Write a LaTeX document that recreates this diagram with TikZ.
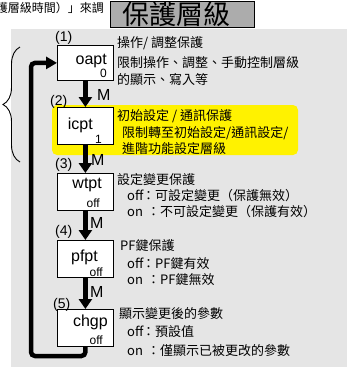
\documentclass[tikz,border=0pt]{standalone}
\usepackage{fontspec}
\setmainfont{Liberation Sans}
\newfontfamily\cjk{Noto Sans CJK TC}
\usetikzlibrary{arrows.meta,decorations.pathreplacing}

\definecolor{panelgray}{RGB}{229,229,229}
\definecolor{titlegray}{RGB}{172,172,172}

\tikzset{
  pbox/.style={draw,fill=white,line width=0.8pt,minimum width=56pt,minimum height=37pt,inner sep=0pt},
  pname/.style={font=\fontsize{16}{16}\selectfont,anchor=base east,inner sep=0pt},
  pval/.style={font=\fontsize{12}{12}\selectfont,anchor=base east,inner sep=0pt},
  pnum/.style={font=\fontsize{14}{14}\selectfont,anchor=base west,inner sep=0pt},
  mlabel/.style={font=\fontsize{16}{16}\selectfont,anchor=base west,inner sep=0pt},
  ptext/.style={font=\cjk\fontsize{13}{13}\selectfont,anchor=base west,inner sep=0pt},
  mstep/.style={line width=4.5pt,-{Triangle[length=10pt,width=13pt]}},
  fbline/.style={line width=4.5pt,rounded corners=4pt,-{Triangle[length=11pt,width=12pt]}},
}

\begin{document}
\begin{tikzpicture}[x=1pt,y=-1pt]
\useasboundingbox (0,0) rectangle (347,376);

% ---------------- BACKGROUND ----------------
\fill[panelgray] (11,29) rectangle (347,367);
\fill[yellow,rounded corners=5pt] (52,105) rectangle (298,155);

% title and cut line above
\node[font=\cjk\fontsize{12}{12}\selectfont,anchor=east,inner sep=0pt] (prevline) at (104,8) {護層級時間）」來調};
\draw[fill=titlegray,line width=1pt] (110,1) rectangle (254,27);
\node[font=\cjk\fontsize{27}{27}\selectfont,inner sep=0pt] (title) at (177,14) {保護層級};

% ---------------- PARAMETER BOXES ----------------
\node[pbox,minimum height=35pt,anchor=north west] (oapt) at (57,45) {};
\node[pbox,anchor=north west] (icpt) at (57,107) {};
\node[pbox,anchor=north west] (wtpt) at (57,173) {};
\node[pbox,anchor=north west] (pfpt) at (57,240) {};
\node[pbox,anchor=north west] (chgp) at (57,309) {};

\node[pname] (oapt-n) at (107,64) {oapt};
\node[pval] (oapt-v) at (107,77) {0};
\node[pname] (icpt-n) at (93,129) {icpt};
\node[pval] (icpt-v) at (102,143) {1};
\node[pname] (wtpt-n) at (102,188) {wtpt};
\node[pval] (wtpt-v) at (100,207) {off};
\node[pname] (pfpt-n) at (98,261) {pfpt};
\node[pval] (pfpt-v) at (103,276) {off};
\node[pname] (chgp-n) at (108,326) {chgp};
\node[pval] (chgp-v) at (103,344) {off};

% step numbers
\node[pnum] (num1) at (55,41) {(1)};
\node[pnum] (num2) at (50,105) {(2)};
\node[pnum] (num3) at (55,168) {(3)};
\node[pnum] (num4) at (55,235) {(4)};
\node[pnum] (num5) at (53,308) {(5)};

% ---------------- M KEY ARROWS ----------------
\draw[mstep] (oapt) -- (icpt);
\draw[mstep] (icpt) -- (wtpt);
\draw[mstep] (wtpt) -- (pfpt);
\draw[mstep] (pfpt) -- (chgp);
\node[mlabel] (m1) at (97,100) {M};
\node[mlabel] (m2) at (91,165) {M};
\node[mlabel] (m3) at (90,228) {M};
\node[mlabel] (m4) at (90,297) {M};

% back to the first one
\coordinate (fb) at (31,356);
\draw[fbline] (chgp.south) |- (fb) |- (oapt.west);

% brace on the left
\draw[line width=0.9pt,decorate,decoration={brace,amplitude=17pt}] (20,162) -- (20,47);

% ---------------- DESCRIPTIONS ----------------
\node[ptext] (oapt-h) at (117,47) {操作/ 調整保護};
\node[ptext] (oapt-t1) at (117,67.5) {限制操作、調整、手動控制層級};
\node[ptext] (oapt-t2) at (117,84) {的顯示、寫入等};

\node[ptext] (icpt-h) at (117,120) {初始設定 / 通訊保護};
\node[ptext] (icpt-t1) at (122,137) {限制轉至初始設定/通訊設定/};
\node[ptext] (icpt-t2) at (122,153) {進階功能設定層級};

\node[ptext] (wtpt-h) at (117,184) {設定變更保護};
\node[ptext] (wtpt-t1) at (127,200) {\makebox[15pt][l]{off}：可設定變更（保護無效）};
\node[ptext] (wtpt-t2) at (127,216) {\makebox[20pt][l]{on}：不可設定變更（保護有效）};

\node[ptext] (pfpt-h) at (120,250) {PF鍵保護};
\node[ptext] (pfpt-t1) at (127,268) {\makebox[15pt][l]{off}：PF鍵有效};
\node[ptext] (pfpt-t2) at (127,284) {\makebox[20pt][l]{on}：PF鍵無效};

\node[ptext] (chgp-h) at (119,318) {顯示變更後的參數};
\node[ptext] (chgp-t1) at (127,336) {\makebox[15pt][l]{off}：預設值};
\node[ptext] (chgp-t2) at (127,355) {\makebox[20pt][l]{on}：僅顯示已被更改的參數};

\end{tikzpicture}
\end{document}
